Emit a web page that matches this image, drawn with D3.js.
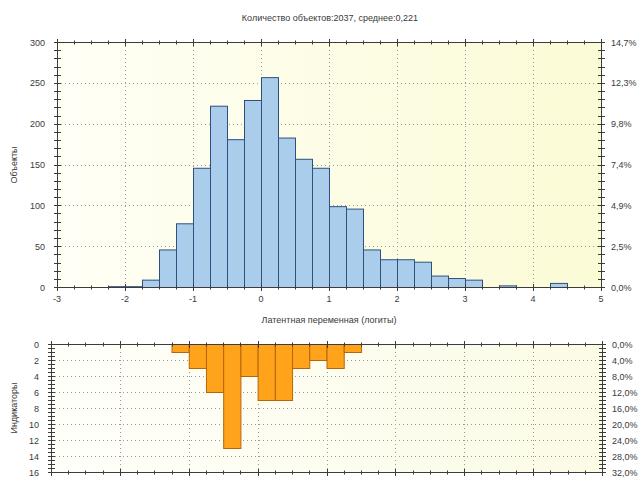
<!DOCTYPE html>
<html>
<head>
<meta charset="utf-8">
<script src="https://cdn.jsdelivr.net/npm/d3@7"></script>
<style>
  html, body { margin: 0; padding: 0; background: #ffffff; }
  svg { display: block; font-family: "Liberation Sans", Arial, sans-serif; }
  .lbl { font-size: 9px; fill: #3a3a3a; }
</style>
</head>
<body>
<svg id="chart" width="642" height="478"></svg>
<script>
// Histogram of person measures (bin width 0.25 logits)
const binWidth = 0.25;
const personBinStarts = [-2.25, -2, -1.75, -1.5, -1.25, -1, -0.75, -0.5, -0.25, 0, 0.25, 0.5, 0.75,
                         1, 1.25, 1.5, 1.75, 2, 2.25, 2.5, 2.75, 3, 3.25, 3.5, 3.75, 4, 4.25];
const personCounts = [1, 1, 9, 46, 78, 146, 222, 181, 229, 257, 183, 157, 146,
                      99, 96, 46, 34, 34, 31, 14, 11, 9, 0, 2, 0, 0, 5];
const totalPersons = 2037;
const meanMeasure = "0,221";

// Item (indicator) distribution on the same logit scale
const itemBinStarts = [-1.25, -1, -0.75, -0.5, -0.25, 0, 0.25, 0.5, 0.75, 1, 1.25];
const itemCounts = [1, 3, 6, 13, 4, 7, 7, 3, 2, 3, 1];
const totalItems = 50;

const xTicks = [-3, -2, -1, 0, 1, 2, 3, 4, 5];
const personTicks = [0, 50, 100, 150, 200, 250, 300];
const itemTicks = [0, 2, 4, 6, 8, 10, 12, 14, 16];

const titleText = "Количество объектов:" + totalPersons + ", среднее:" + meanMeasure;
const xTitle = "Латентная переменная (логиты)";
const yTitleTop = "Объекты";
const yTitleBottom = "Индикаторы";

const svg = d3.select("#chart");
const axisColor = "#3c3c3c";
const gridColor = "#9a9a9a";

const fmtPct = v => v.toFixed(1).replace(".", ",") + "%";

// gradients for the plot backgrounds
const defs = svg.append("defs");
const g1 = defs.append("linearGradient").attr("id", "bgTop").attr("x1", "0").attr("x2", "1").attr("y1", "0").attr("y2", "0");
g1.append("stop").attr("offset", "0%").attr("stop-color", "#fffff6");
g1.append("stop").attr("offset", "100%").attr("stop-color", "#fbfbd6");
const g2 = defs.append("linearGradient").attr("id", "bgBot").attr("x1", "0").attr("x2", "1").attr("y1", "0").attr("y2", "0");
g2.append("stop").attr("offset", "0%").attr("stop-color", "#fffffa");
g2.append("stop").attr("offset", "100%").attr("stop-color", "#fbfbe6");

// frame with ticks crossing the border lines
function frame(g, x, y, xDom, yDom, yMinorStep) {
  const [x0, x1] = xDom, [y0, y1] = yDom;
  const X0 = x(x0), X1 = x(x1), Y0 = y(y0), Y1 = y(y1);
  g.append("rect").attr("x", X0 + 0.5).attr("y", Math.min(Y0, Y1) + 0.5)
    .attr("width", X1 - X0).attr("height", Math.abs(Y0 - Y1))
    .attr("fill", "none").attr("stroke", axisColor).attr("stroke-width", 1);
  const xMinor = d3.range(x0, x1 + 1e-9, 0.25);
  const yMinor = d3.range(y0, y1 + 1e-9, yMinorStep);
  const tg = g.append("g").attr("stroke", axisColor).attr("stroke-width", 1);
  [Y0, Y1].forEach(yy => {
    tg.append("g").selectAll("line").data(xMinor).join("line")
      .attr("x1", d => Math.round(x(d)) + 0.5).attr("x2", d => Math.round(x(d)) + 0.5)
      .attr("y1", d => yy + (Number.isInteger(d) ? -3 : -1.5))
      .attr("y2", d => yy + (Number.isInteger(d) ? 4 : 2.5));
  });
  [X0, X1].forEach(xx => {
    tg.append("g").selectAll("line").data(yMinor).join("line")
      .attr("y1", d => Math.round(y(d)) + 0.5).attr("y2", d => Math.round(y(d)) + 0.5)
      .attr("x1", xx - 3).attr("x2", xx + 4);
  });
}

// ---------- upper panel: persons ----------
const xTop = d3.scaleLinear().domain([-3, 5]).range([57, 601]);
const yTop = d3.scaleLinear().domain([0, 300]).range([287, 42]);

const upper = svg.append("g");
upper.append("rect")
  .attr("x", xTop(-3)).attr("y", yTop(300))
  .attr("width", xTop(5) - xTop(-3)).attr("height", yTop(0) - yTop(300))
  .attr("fill", "url(#bgTop)");

// dotted grid
upper.append("g").selectAll("line").data(xTicks.slice(1, -1)).join("line")
  .attr("x1", d => Math.round(xTop(d)) + 0.5).attr("x2", d => Math.round(xTop(d)) + 0.5)
  .attr("y1", yTop(300)).attr("y2", yTop(0))
  .attr("stroke", gridColor).attr("stroke-width", 1).attr("stroke-dasharray", "1,3");
upper.append("g").selectAll("line").data(personTicks.slice(1, -1)).join("line")
  .attr("x1", xTop(-3)).attr("x2", xTop(5))
  .attr("y1", d => Math.round(yTop(d)) + 0.5).attr("y2", d => Math.round(yTop(d)) + 0.5)
  .attr("stroke", gridColor).attr("stroke-width", 1).attr("stroke-dasharray", "1,3");

// bars
upper.append("g").selectAll("rect")
  .data(personBinStarts.map((s, i) => ({ s, v: personCounts[i] })).filter(d => d.v > 0))
  .join("rect")
  .attr("x", d => xTop(d.s) + 0.5)
  .attr("y", d => yTop(d.v) + 0.5)
  .attr("width", d => xTop(d.s + binWidth) - xTop(d.s))
  .attr("height", d => Math.max(0, yTop(0) - yTop(d.v)))
  .attr("fill", "#a9cdea")
  .attr("stroke", "#2f4f7f")
  .attr("stroke-width", 1);

frame(upper, xTop, yTop, [-3, 5], [0, 300], 10);

// tick labels
upper.append("g").selectAll("text").data(xTicks).join("text")
  .attr("class", "lbl").attr("x", d => xTop(d)).attr("y", 302)
  .attr("text-anchor", "middle").text(d => d);
upper.append("g").selectAll("text").data(personTicks).join("text")
  .attr("class", "lbl").attr("x", xTop(-3) - 12).attr("y", d => yTop(d) + 3.5)
  .attr("text-anchor", "end").text(d => d);
upper.append("g").selectAll("text").data(personTicks).join("text")
  .attr("class", "lbl").attr("x", xTop(5) + 10).attr("y", d => yTop(d) + 3.5)
  .attr("text-anchor", "start").text(d => fmtPct(d / totalPersons * 100));

svg.append("text").attr("class", "lbl").attr("x", 330).attr("y", 21)
  .attr("text-anchor", "middle").text(titleText);
svg.append("text").attr("class", "lbl").attr("x", 329).attr("y", 323)
  .attr("text-anchor", "middle").text(xTitle);
svg.append("text").attr("class", "lbl")
  .attr("transform", "translate(17,165) rotate(-90)")
  .attr("text-anchor", "middle").text(yTitleTop);

// ---------- lower panel: indicators ----------
const xBot = d3.scaleLinear().domain([-3, 5]).range([51, 602]);
const yBot = d3.scaleLinear().domain([0, 16]).range([344, 472]);

const lower = svg.append("g");
lower.append("rect")
  .attr("x", xBot(-3)).attr("y", yBot(0))
  .attr("width", xBot(5) - xBot(-3)).attr("height", yBot(16) - yBot(0))
  .attr("fill", "url(#bgBot)");

lower.append("g").selectAll("line").data(xTicks.slice(1, -1)).join("line")
  .attr("x1", d => Math.round(xBot(d)) + 0.5).attr("x2", d => Math.round(xBot(d)) + 0.5)
  .attr("y1", yBot(0)).attr("y2", yBot(16))
  .attr("stroke", gridColor).attr("stroke-width", 1).attr("stroke-dasharray", "1,3");
lower.append("g").selectAll("line").data(itemTicks.slice(1, -1)).join("line")
  .attr("x1", xBot(-3)).attr("x2", xBot(5))
  .attr("y1", d => Math.round(yBot(d)) + 0.5).attr("y2", d => Math.round(yBot(d)) + 0.5)
  .attr("stroke", gridColor).attr("stroke-width", 1).attr("stroke-dasharray", "1,3");

lower.append("g").selectAll("rect")
  .data(itemBinStarts.map((s, i) => ({ s, v: itemCounts[i] })))
  .join("rect")
  .attr("x", d => xBot(d.s) + 0.5)
  .attr("y", yBot(0) + 0.5)
  .attr("width", d => xBot(d.s + binWidth) - xBot(d.s))
  .attr("height", d => yBot(d.v) - yBot(0))
  .attr("fill", "#ffa31a")
  .attr("stroke", "#b8650a")
  .attr("stroke-width", 1);

frame(lower, xBot, yBot, [-3, 5], [0, 16], 0.5);

lower.append("g").selectAll("text").data(itemTicks).join("text")
  .attr("class", "lbl").attr("x", xBot(-3) - 12).attr("y", d => yBot(d) + 3.5)
  .attr("text-anchor", "end").text(d => d);
lower.append("g").selectAll("text").data(itemTicks).join("text")
  .attr("class", "lbl").attr("x", xBot(5) + 10).attr("y", d => yBot(d) + 3.5)
  .attr("text-anchor", "start").text(d => fmtPct(d / totalItems * 100));
svg.append("text").attr("class", "lbl")
  .attr("transform", "translate(17,408) rotate(-90)")
  .attr("text-anchor", "middle").text(yTitleBottom);
</script>
</body>
</html>
